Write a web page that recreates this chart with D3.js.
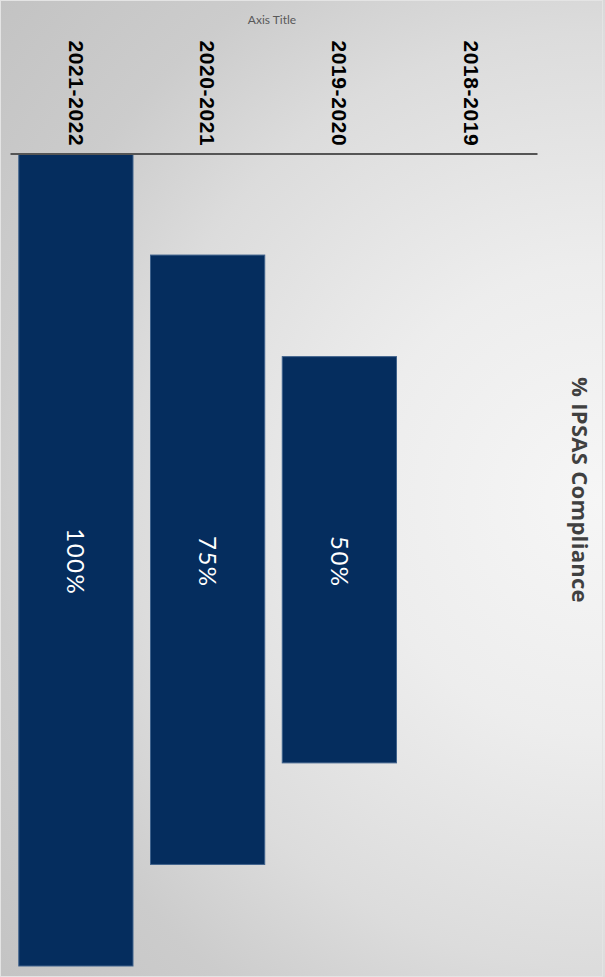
<!DOCTYPE html>
<html>
<head>
<meta charset="utf-8">
<script src="https://cdn.jsdelivr.net/npm/d3@7/dist/d3.min.js"></script>
<style>
  html, body { margin: 0; padding: 0; background: #fff; }
  svg { display: block; }
</style>
</head>
<body>
<div id="chart"></div>
<script>
// Funnel of IPSAS compliance by fiscal year (drawn turned a quarter to the right)
const categories = ["2021-2022", "2020-2021", "2019-2020", "2018-2019"];
const compliance = [1.00, 0.75, 0.50, null];
const valueLabels = ["100%", "75%", "50%", null];
const chartTitle = "% IPSAS Compliance";
const axisTitle = "Axis Title";

const W = 605, H = 977;
const svg = d3.select("#chart").append("svg")
  .attr("width", W).attr("height", H);

// Background: soft radial grey
const defs = svg.append("defs");
const grad = defs.append("radialGradient")
  .attr("id", "bg").attr("gradientUnits", "userSpaceOnUse")
  .attr("cx", 600).attr("cy", 500).attr("r", 780);
[[0, "#f6f6f6"], [0.3, "#ededed"], [0.6, "#dcdcdc"], [0.78, "#cccccc"], [1, "#c3c3c3"]]
  .forEach(([o, c]) => grad.append("stop").attr("offset", o).attr("stop-color", c));
svg.append("rect").attr("width", W).attr("height", H).attr("fill", "url(#bg)");
svg.append("rect").attr("x", 0.5).attr("y", 0.5).attr("width", W - 3).attr("height", H - 1)
  .attr("fill", "none").attr("stroke", "#e4e4e4").attr("stroke-width", 1);

// Scales: categories run across, the funnel value runs down around a centre line
const x = d3.scaleBand()
  .domain(categories)
  .range([10, 537])
  .paddingInner(0.133)
  .paddingOuter(0.0665);

const y = d3.scaleLinear()
  .domain([-1, 1])
  .range([153.5, 966]);

const rows = categories.map((c, i) => ({ cat: c, v: compliance[i], label: valueLabels[i] }));

// Bars
svg.append("g").selectAll("rect")
  .data(rows.filter(d => d.v != null))
  .join("rect")
  .attr("x", d => x(d.cat))
  .attr("width", x.bandwidth())
  .attr("y", d => y(-d.v))
  .attr("height", d => y(d.v) - y(-d.v))
  .attr("fill", "#052d5e")
  .attr("stroke", "#40628c")
  .attr("stroke-width", 1);

// Value labels inside bars
svg.append("g").selectAll("text")
  .data(rows.filter(d => d.v != null))
  .join("text")
  .attr("transform", d => `translate(${x(d.cat) + x.bandwidth() / 2},${y(0) + 2}) rotate(90)`)
  .attr("text-anchor", "middle")
  .attr("dy", "0.35em")
  .attr("fill", "#ffffff")
  .style("font-family", "Lato, 'DejaVu Sans', sans-serif")
  .style("font-weight", 400)
  .style("font-size", "24px")
  .style("letter-spacing", "1.5px")
  .text(d => d.label);

// Category axis
const axis = svg.append("g")
  .attr("transform", `translate(0,${y(-1)})`)
  .call(d3.axisTop(x).tickSizeInner(0).tickSizeOuter(0).tickPadding(0));
axis.select(".domain").attr("stroke", "#555555").attr("stroke-width", 2);
axis.selectAll(".tick text")
  .attr("y", null)
  .attr("transform", "translate(0,-113) rotate(90)")
  .attr("text-anchor", "start")
  .attr("dy", "0.35em")
  .attr("fill", "#000000")
  .style("font-family", "'Liberation Sans', Arial, sans-serif")
  .style("font-weight", "bold")
  .style("font-size", "21px")
  .style("letter-spacing", "0.6px");

// Axis title
svg.append("text")
  .attr("x", 272).attr("y", 24)
  .attr("text-anchor", "middle")
  .attr("fill", "#595959")
  .style("font-family", "Lato, sans-serif")
  .style("font-size", "12px")
  .text(axisTitle);

// Chart title
svg.append("text")
  .attr("transform", "translate(580,490) rotate(90)")
  .attr("text-anchor", "middle")
  .attr("dy", "0.35em")
  .attr("fill", "#404040")
  .style("font-family", "'Open Sans', sans-serif")
  .style("font-weight", "bold")
  .style("font-size", "22px")
  .style("letter-spacing", "0.3px")
  .text(chartTitle);
</script>
</body>
</html>
